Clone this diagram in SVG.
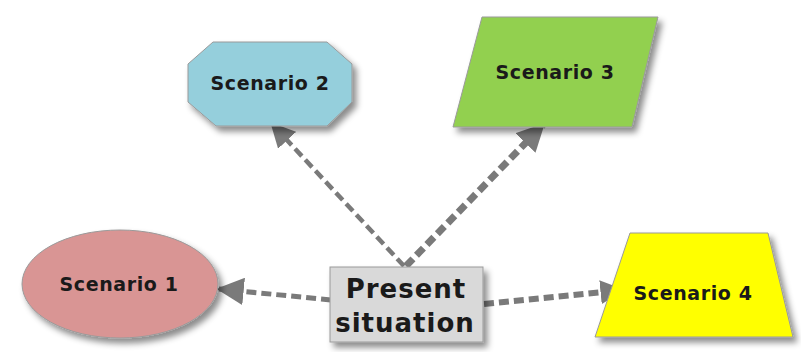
<svg xmlns="http://www.w3.org/2000/svg" width="801" height="352" viewBox="0 0 801 352">
<style>
.lbl{font-family:"DejaVu Sans",Verdana,sans-serif;font-weight:bold;fill:#1a1a1a;text-anchor:middle}
.s{font-size:19px;letter-spacing:0.6px}
.big{font-size:26px;letter-spacing:1px}
.node{stroke:#9a9a9a;stroke-width:1}
.con{stroke:#7a7a7a;fill:none;stroke-dasharray:10 5}
</style>
<defs>
<filter id="sh" x="-20%" y="-20%" width="150%" height="160%">
<feDropShadow dx="4" dy="5" stdDeviation="3" flood-color="#000" flood-opacity="0.45"/>
</filter>
<marker id="ah" viewBox="0 0 10 10" refX="9" refY="5" markerWidth="5.5" markerHeight="5.5" markerUnits="strokeWidth" orient="auto">
<path d="M0,0 L10,5 L0,10 Z" fill="#7a7a7a"/>
</marker>
<marker id="ah2" viewBox="0 0 10 10" refX="9" refY="5" markerWidth="4" markerHeight="4" markerUnits="strokeWidth" orient="auto">
<path d="M0,0 L10,5 L0,10 Z" fill="#7a7a7a"/>
</marker>
</defs>
<rect width="801" height="352" fill="#ffffff"/>
<g id="connectors">
<line class="con" x1="404" y1="266" x2="272" y2="124" stroke-width="4.5" marker-end="url(#ah)"/>
<line class="con" x1="406" y1="266" x2="543" y2="125" stroke-width="7" marker-end="url(#ah2)"/>
<line class="con" x1="331" y1="300" x2="219" y2="289" stroke-width="5" marker-end="url(#ah)"/>
<line class="con" x1="484" y1="304" x2="622" y2="290" stroke-width="6" marker-end="url(#ah2)"/>
</g>
<g id="scenario2">
<polygon class="node" points="213,42 327,42 352,64 352,102 327,126 216,126 188,102 188,64" fill="#95cfdc" filter="url(#sh)"/>
<text class="lbl s" x="270" y="90">Scenario 2</text>
</g>
<g id="scenario3">
<polygon class="node" points="482,17 658,17 632,127 453,127" fill="#92d050" filter="url(#sh)"/>
<text class="lbl s" x="555" y="79">Scenario 3</text>
</g>
<g id="scenario1">
<ellipse class="node" cx="120" cy="284" rx="98" ry="54" fill="#d99594" filter="url(#sh)"/>
<text class="lbl s" x="119" y="291">Scenario 1</text>
</g>
<g id="present">
<rect class="node" x="330" y="267" width="153" height="75" fill="#d9d9d9" filter="url(#sh)"/>
<text class="lbl big" x="406" y="298">Present</text>
<text class="lbl big" x="405" y="332">situation</text>
</g>
<g id="scenario4">
<polygon class="node" points="630,233 768,233 793,337 595,337" fill="#ffff00" filter="url(#sh)"/>
<text class="lbl s" x="693" y="300">Scenario 4</text>
</g>
</svg>
